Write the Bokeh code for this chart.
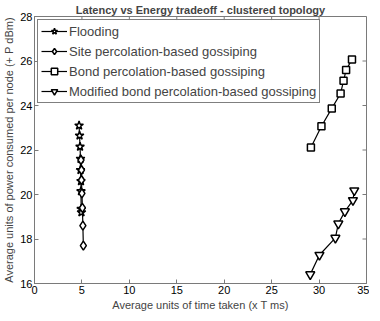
import math
from bokeh.plotting import figure
from bokeh.models import Legend, LegendItem, FixedTicker
from bokeh.embed import file_html
from bokeh.resources import INLINE

# Data
flood_x = [4.70, 4.75, 4.80, 4.85, 4.85, 4.90, 4.90, 4.92, 4.95]
flood_y = [23.10, 22.65, 22.15, 21.60, 21.10, 20.60, 20.15, 19.35, 19.20]

site_x = [4.90, 4.95, 4.95, 5.00, 5.05, 5.10, 5.15]
site_y = [21.55, 21.10, 20.65, 20.05, 19.40, 18.60, 17.70]

bond_x = [29.14, 30.25, 31.34, 32.27, 32.58, 32.85, 33.47]
bond_y = [22.11, 23.07, 23.87, 24.54, 25.11, 25.60, 26.07]

mod_x = [29.07, 30.04, 31.72, 32.03, 32.72, 33.57, 33.71]
mod_y = [16.41, 17.28, 18.05, 18.69, 19.24, 19.74, 20.18]

x_ticks = [0, 5, 10, 15, 20, 25, 30, 35]
y_ticks = [16, 18, 20, 22, 24, 26, 28]

names = ["Flooding", "Site percolation-based gossiping",
         "Bond percolation-based gossiping", "Modified bond percolation-based gossiping"]

X_MIN, X_MAX = 0, 35
Y_MIN, Y_MAX = 16, 28

FONT = "Liberation Sans"
AX = "#7a7a7a"

p = figure(frame_width=332, frame_height=267, x_range=(X_MIN, X_MAX), y_range=(Y_MIN, Y_MAX),
           output_backend="svg", toolbar_location=None,
           min_border_left=0, min_border_right=3, min_border_top=0, min_border_bottom=0)
p.xgrid.visible = False
p.ygrid.visible = False
p.outline_line_color = AX
p.background_fill_color = "white"

p.title.text = "Latency vs Energy tradeoff - clustered topology"
p.title.align = "center"
p.title.text_font = FONT
p.title.text_font_size = "11px"
p.title.text_font_style = "bold"
p.title.offset = 0
p.title.standoff = 2

def style_axis(ax, ticks):
    ax.ticker = FixedTicker(ticks=ticks)
    ax.axis_line_color = AX
    ax.major_tick_line_color = AX
    ax.major_tick_in = 4
    ax.major_tick_out = 0
    ax.minor_tick_line_color = None
    ax.major_label_text_font = FONT
    ax.major_label_text_font_size = "11px"
    ax.major_label_text_color = "black"
    ax.major_label_standoff = 2
    ax.axis_label_text_font = FONT
    ax.axis_label_text_font_size = "11px"
    ax.axis_label_text_font_style = "normal"
    ax.axis_label_standoff = 2

style_axis(p.xaxis[0], x_ticks)
style_axis(p.yaxis[0], y_ticks)
p.xaxis.axis_label = "Average units of time taken (x T ms)"
p.yaxis.axis_label = "Average units of power consumed per node (+ P dBm)"

# inward ticks on the top and right edges of the box
p.ray(x=x_ticks, y=[Y_MAX] * len(x_ticks), length=4, length_units="screen",
      angle=-math.pi / 2, line_color=AX, line_width=1)
p.ray(x=[X_MAX] * len(y_ticks), y=y_ticks, length=4, length_units="screen",
      angle=math.pi, line_color=AX, line_width=1)

series = [
    (flood_x, flood_y, "star", 9),
    (site_x, site_y, "diamond", 9),
    (bond_x, bond_y, "square", 7),
    (mod_x, mod_y, "inverted_triangle", 9),
]
items = []
for (xs, ys, mk, sz), nm in zip(series, names):
    l = p.line(xs, ys, line_color="black", line_width=1.2)
    s = p.scatter(xs, ys, marker=mk, size=sz, line_color="black", line_width=1.5,
                  fill_color="white")
    items.append(LegendItem(label=nm, renderers=[l, s]))

legend = Legend(items=items, location="top_left")
legend.label_text_font = FONT
legend.label_text_font_size = "13px"
legend.border_line_color = "black"
legend.border_line_width = 1
legend.glyph_width = 26
legend.glyph_height = 16
legend.label_height = 16
legend.spacing = 4
legend.padding = 3
legend.margin = 3
legend.label_standoff = 2
p.add_layout(legend)

open("out.html", "w").write(file_html(p, INLINE))
